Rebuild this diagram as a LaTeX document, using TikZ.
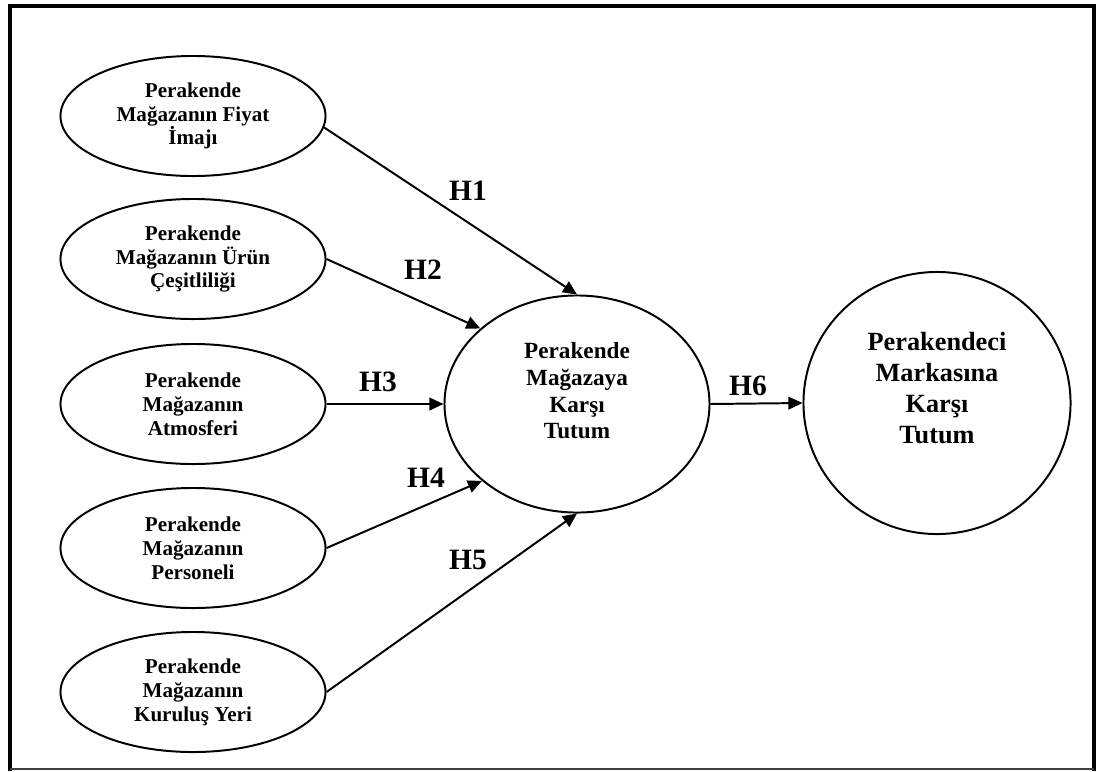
\documentclass[tikz,border=0pt]{standalone}
\usepackage{fontspec}
\setmainfont{Liberation Serif}
\usepackage{tikz}
\usetikzlibrary{arrows.meta, positioning, shapes.geometric}
\tikzstyle{factor}  = [ellipse, draw=black, line width=1.4pt, minimum width=6.625cm, minimum height=3cm, inner sep=0pt, align=center, font=\bfseries\fontsize{15}{17}\selectfont]
\tikzstyle{central} = [ellipse, draw=black, line width=1.4pt, minimum width=6.625cm, minimum height=5.425cm, inner sep=0pt, align=center, font=\bfseries\fontsize{16.5}{19}\selectfont]
\tikzstyle{outcome} = [ellipse, draw=black, line width=1.4pt, minimum width=6.675cm, minimum height=6.55cm, inner sep=0pt, align=center, font=\bfseries\fontsize{18.7}{22}\selectfont]
\tikzstyle{hyp}     = [font=\bfseries\fontsize{21}{24}\selectfont, inner sep=0pt]
\tikzstyle{arrow}   = [line width=1.4pt, -{Triangle[length=10pt, width=9pt]}]
\tikzstyle{frame}   = [line width=2.6pt, line cap=rect]

\begin{document}
\begin{tikzpicture}[x=0.025cm, y=-0.025cm]

\useasboundingbox (0,0) rectangle (1096,771);

% Outer frame
\draw [frame] (10,769) -- (10,6) -- (1094,6) -- (1094,769);
\draw [line width=1pt, black!75] (10,769) -- (1094,769);

% Store image factors
\node (price) [factor] at (193,116) {Perakende\\Mağazanın Fiyat\\İmajı};
\node (range) [factor] at (193,259) {Perakende\\Mağazanın Ürün\\Çeşitliliği};
\node (atmos) [factor] at (193,404) {Perakende\\Mağazanın\\Atmosferi};
\node (staff) [factor] at (193,548) {Perakende\\Mağazanın\\Personeli};
\node (place) [factor] at (193,692) {Perakende\\Mağazanın\\Kuruluş Yeri};

\node (store) [central] at (577,404) {Perakende\\Mağazaya\\Karşı\\Tutum\\\mbox{}};
\node (brand) [outcome] at (937,403) {Perakendeci\\Markasına\\Karşı\\Tutum\\\mbox{}};

% Hypothesis paths
\draw [arrow] (price.-5) -- (store.north);
\draw [arrow] (range.east) -- (store.142);
\draw [arrow] (atmos.east) -- (store.west);
\draw [arrow] (staff.east) -- (store.219);
\draw [arrow] (place.east) -- (store.south);
\draw [arrow] (store.east) -- (brand.west);

% Labels
\node (h1) [hyp] at (468,191) {H1};
\node (h2) [hyp] at (423,270) {H2};
\node (h3) [hyp] at (378,382) {H3};
\node (h4) [hyp] at (426,478) {H4};
\node (h5) [hyp] at (468,560) {H5};
\node (h6) [hyp] at (748,386) {H6};

\end{tikzpicture}
\end{document}
